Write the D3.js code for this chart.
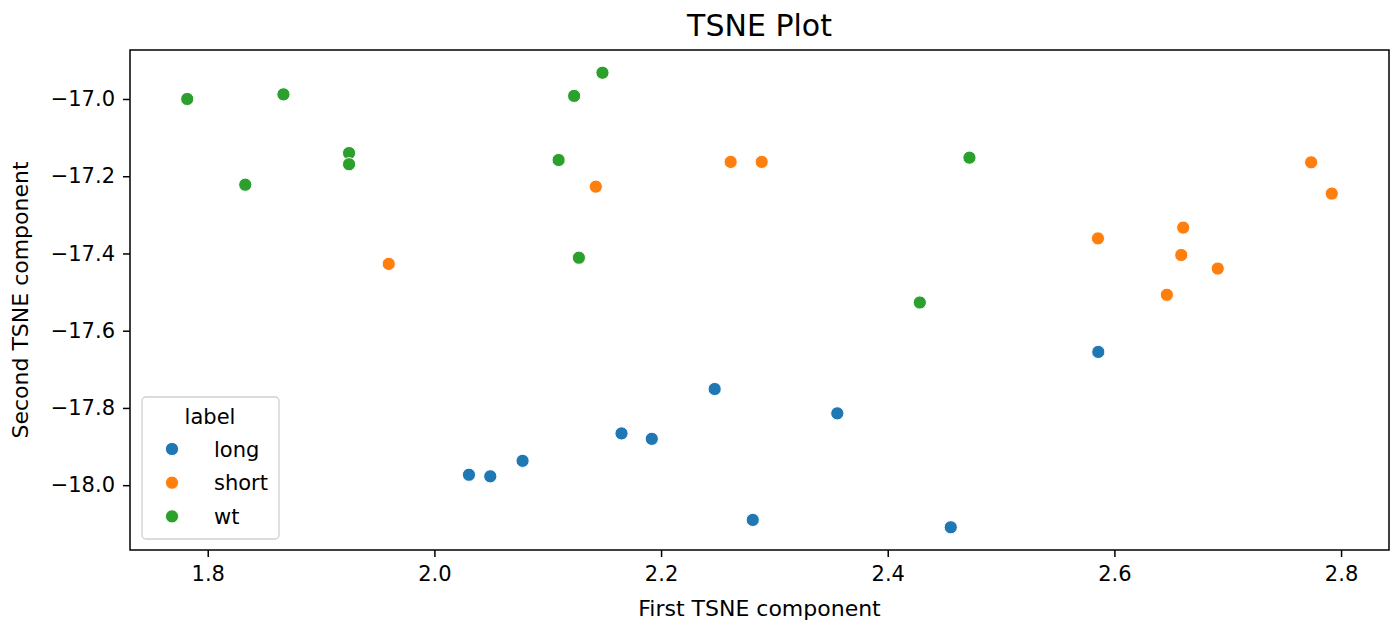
<!DOCTYPE html>
<html>
<head>
<meta charset="utf-8">
<script src="https://cdn.jsdelivr.net/npm/d3@7"></script>
<style>
  body { margin: 0; background: #fff; }
  text { font-family: "DejaVu Sans", sans-serif; fill: #000; }
</style>
</head>
<body>
<div class="chart"></div>
<script>
    // values
    const labels = ["long", "short", "wt"];
    const colors = ["#1f77b4", "#ff7f0e", "#2ca02c"];

    const longX = [2.2473, 2.3555, 2.1651, 2.1918, 2.0778, 2.0305, 2.0493, 2.2809, 2.4556, 2.5858];
    const longY = [-17.751, -17.814, -17.866, -17.880, -17.937, -17.973, -17.977, -18.090, -18.109, -17.655];

    const shortX = [2.1424, 1.9597, 2.2614, 2.2888, 2.5855, 2.6607, 2.6590, 2.6912, 2.6463, 2.7736, 2.7918];
    const shortY = [-17.227, -17.427, -17.163, -17.163, -17.361, -17.333, -17.404, -17.439, -17.507, -17.164, -17.245];

    const wtX = [1.7819, 1.8668, 1.8331, 1.9247, 1.9247, 2.1233, 2.1483, 2.1096, 2.1275, 2.4721, 2.4283];
    const wtY = [-17.000, -16.988, -17.222, -17.140, -17.169, -16.992, -16.932, -17.158, -17.411, -17.152, -17.527];

    const xTicks = [1.8, 2.0, 2.2, 2.4, 2.6, 2.8];
    const yTicks = [-18.0, -17.8, -17.6, -17.4, -17.2, -17.0];

    const margin = ({top: 50, right: 8, bottom: 73, left: 130});
    const width = 1397 - margin.left - margin.right;
    const height = 623 - margin.top - margin.bottom;

    const seriesX = [longX, shortX, wtX];
    const seriesY = [longY, shortY, wtY];
    let data = [];
    labels.forEach((lab, i) => {
        seriesX[i].forEach((x, j) => data.push({label: lab, x: x, y: seriesY[i][j]}));
    });

    // matplotlib style 5% padding
    function padded(ext) {
        const r = ext[1] - ext[0];
        return [ext[0] - 0.05 * r, ext[1] + 0.05 * r];
    }

    const svg = d3.select('.chart').append('svg')
        .attr("width", 1397)
        .attr("height", 623);

    const plot = svg.append("g")
        .attr("transform", "translate(" + margin.left + "," + margin.top + ")");

    const xScale = d3.scaleLinear()
        .domain(padded(d3.extent(data, d => d.x)))
        .range([0, width]);

    const yScale = d3.scaleLinear()
        .domain(padded(d3.extent(data, d => d.y)))
        .range([height, 0]);

    const color = d3.scaleOrdinal()
        .domain(labels)
        .range(colors);

    const xAxis = d3.axisBottom(xScale)
        .tickValues(xTicks)
        .tickFormat(d3.format(".1f"))
        .tickSize(7)
        .tickPadding(9);

    const yAxis = d3.axisLeft(yScale)
        .tickValues(yTicks)
        .tickFormat(d3.format(".1f"))
        .tickSize(7)
        .tickPadding(8);

    plot.append("g")
        .attr("class", "axis x-axis")
        .attr("transform", `translate(0, ${height})`)
        .call(xAxis);

    plot.append("g")
        .attr("class", "axis y-axis")
        .call(yAxis);

    svg.selectAll(".axis text")
        .attr("font-size", "21px")
        .attr("font-family", "DejaVu Sans");
    svg.selectAll(".axis .domain").remove();
    svg.selectAll(".axis line")
        .attr("stroke", "#000")
        .attr("stroke-width", 1.5);

    // points
    plot.selectAll("circle.pt")
        .data(data)
        .enter()
        .append("circle")
        .attr("class", "pt")
        .attr("cx", d => xScale(d.x))
        .attr("cy", d => yScale(d.y))
        .attr("r", 6.6)
        .attr("fill", d => color(d.label))
        .attr("stroke", "#fff")
        .attr("stroke-width", 1);

    // frame
    plot.append("rect")
        .attr("width", width)
        .attr("height", height)
        .attr("fill", "none")
        .attr("stroke", "#000")
        .attr("stroke-width", 1.5);

    // title and axis titles
    svg.append("text")
        .attr("x", margin.left + width / 2)
        .attr("y", 36)
        .attr("text-anchor", "middle")
        .attr("font-size", "30px")
        .text("TSNE Plot");

    svg.append("text")
        .attr("x", margin.left + width / 2)
        .attr("y", 616)
        .attr("text-anchor", "middle")
        .attr("font-size", "22px")
        .text("First TSNE component");

    svg.append("text")
        .attr("transform", `translate(28, ${margin.top + height / 2}) rotate(-90)`)
        .attr("text-anchor", "middle")
        .attr("font-size", "22px")
        .text("Second TSNE component");

    // legend
    const legend = plot.append("g")
        .attr("transform", "translate(12, 347)");

    legend.append("rect")
        .attr("width", 137)
        .attr("height", 142)
        .attr("rx", 4)
        .attr("fill", "#fff")
        .attr("fill-opacity", 0.8)
        .attr("stroke", "#d0d0d0")
        .attr("stroke-width", 1.3);

    legend.append("text")
        .attr("x", 68)
        .attr("y", 27)
        .attr("text-anchor", "middle")
        .attr("font-size", "21px")
        .text("label");

    const items = legend.selectAll("g.item")
        .data(labels)
        .enter()
        .append("g")
        .attr("class", "item")
        .attr("transform", (d, i) => `translate(0, ${52 + i * 33.7})`);

    items.append("circle")
        .attr("cx", 30)
        .attr("cy", 0)
        .attr("r", 6.6)
        .attr("fill", d => color(d))
        .attr("stroke", "#fff")
        .attr("stroke-width", 1);

    items.append("text")
        .attr("x", 72)
        .attr("y", 7.5)
        .attr("font-size", "21px")
        .text(d => d);
</script>
</body>
</html>
